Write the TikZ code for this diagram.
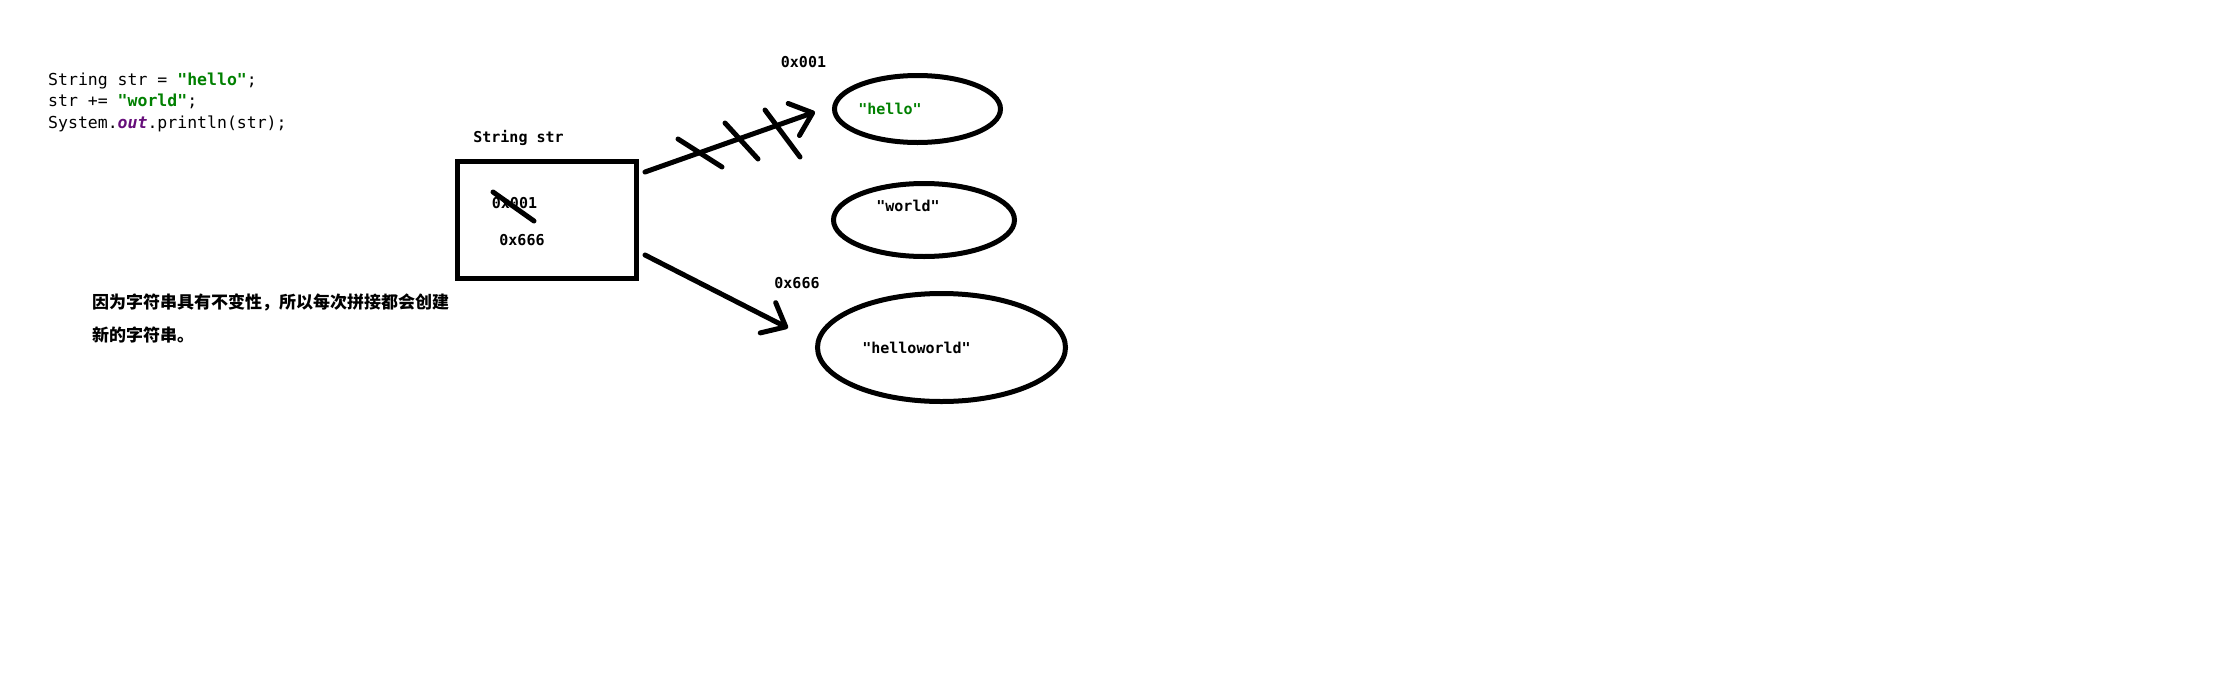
\documentclass[tikz,border=0pt]{standalone}
\usepackage{fontspec}
\setmonofont{DejaVu Sans Mono}
\newfontfamily\cjk{Noto Sans CJK SC}
\usetikzlibrary{shapes.geometric,arrows.meta}
\definecolor{strgreen}{RGB}{0,128,0}
\definecolor{fieldpurple}{RGB}{102,14,122}

\begin{document}
\begin{tikzpicture}[x=1pt, y=-1pt,
	code/.style={anchor=base west, inner sep=0, font=\ttfamily\fontsize{16.5}{20}\selectfont},
	addr/.style={anchor=base, inner sep=0, font=\ttfamily\bfseries\fontsize{15}{18}\selectfont},
	note/.style={anchor=base west, inner sep=0, font=\cjk\bfseries\fontsize{17}{20}\selectfont},
	obj/.style={ellipse, draw, line width=5pt, inner sep=0},
	pen/.style={line width=5pt, line cap=round},
	ptr/.style={pen, -{Straight Barb[round, length=20pt, width=34pt]}}]

	\useasboundingbox (0,0) rectangle (2220,683);

	\node [code] (code1) at (48,85) {String str = \textcolor{strgreen}{\bfseries"hello"};};
	\node [code] (code2) at (48,106.5) {str += \textcolor{strgreen}{\bfseries"world"};};
	\node [code] (code3) at (48,128) {System.\textcolor{fieldpurple}{\bfseries\itshape out}.println(str);};

	\node [note] (note1) at (92,308) {因为字符串具有不变性，所以每次拼接都会创建};
	\node [note] (note2) at (92,341) {新的字符串。};

	\node [addr] (vname) at (518.5,142) {String str};
	\node [draw, line width=5pt, inner sep=0, minimum width=179pt, minimum height=117pt] (strbox) at (547,219.5) {};
	\node [addr] (old) at (514.5,208) {0x001};
	\node [addr] (new) at (522,245) {0x666};
	\draw [pen] (493,192) -- (534,221);

	\node [obj, minimum width=166pt, minimum height=67pt] (hello) at (917.5,109) {};
	\node [obj, minimum width=181pt, minimum height=73pt] (world) at (924,220) {};
	\node [obj, minimum width=248pt, minimum height=108pt] (helloworld) at (941.5,347.5) {};

	\node [addr, text=strgreen] (hellotxt) at (890,114) {"hello"};
	\node [addr] (worldtxt) at (908,211) {"world"};
	\node [addr] (hwtxt) at (916.5,353) {"helloworld"};
	\node [addr] (hwaddr) at (797,288) {0x666};
	\node [addr] (helloaddr) at (803.5,67) {0x001};

	\coordinate (p1) at (645,172);
	\coordinate (q1) at (815,112);
	\coordinate (p2) at (645,255);
	\coordinate (q2) at (788,328);
	\draw [ptr] (p1) -- (q1);
	\draw [ptr] (p2) -- (q2);

	\draw [pen] (678,139) -- (722,167);
	\draw [pen] (725,123) -- (758,159);
	\draw [pen] (765,110) -- (800,157);
\end{tikzpicture}
\end{document}
